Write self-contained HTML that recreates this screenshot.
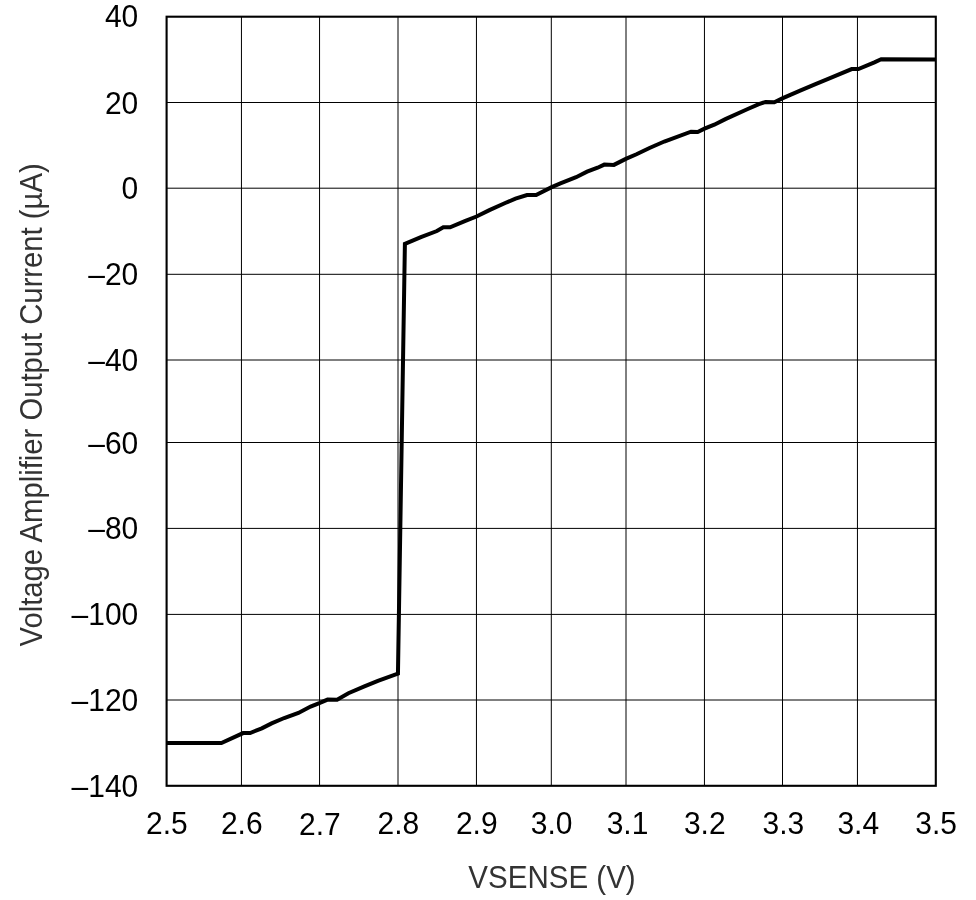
<!DOCTYPE html><html><head><meta charset="utf-8"><style>html,body{margin:0;padding:0;background:#fff;width:976px;height:900px;overflow:hidden}svg{display:block;filter:grayscale(1)}text{font-family:"Liberation Sans",sans-serif}</style></head><body>
<svg width="976" height="900" viewBox="0 0 976 900">
<rect width="976" height="900" fill="#fff"/>
<path d="M241.45 16.7V785.8M319.55 16.7V785.8M398.0 16.7V785.8M476.45 16.7V785.8M551.3 16.7V785.8M626.0 16.7V785.8M704.45 16.7V785.8M782.5 16.7V785.8M857.45 16.7V785.8M166.6 102.5H935.8M166.6 188.2H935.8M166.6 274.3H935.8M166.6 360.0H935.8M166.6 442.5H935.8M166.6 528.4H935.8M166.6 614.4H935.8M166.6 700.0H935.8" stroke="#000" stroke-width="1" fill="none"/>
<path d="M166.6 743.0 L221.4 743.0 L243.1 733.1 L250.1 733.0 L261.8 728.4 L271.6 723.4 L284.2 718.0 L298.4 713.0 L310.6 706.6 L319.3 703.2 L327.6 699.6 L337.1 699.7 L348.4 693.2 L364.4 686.4 L377.9 680.8 L397.95 673.65 L404.9 243.9 L420.9 237.1 L436.9 231.0 L443.3 227.3 L450.1 227.3 L464.8 221.1 L476.5 216.5 L489.4 210.1 L505.2 203.0 L515.5 198.7 L527.0 195.0 L536.1 195.0 L551.2 187.4 L560.4 183.4 L576.1 177.2 L587.1 171.7 L597.6 167.7 L604.3 164.6 L613.9 164.9 L625.8 158.9 L636.5 154.3 L649.5 148.0 L664.3 141.5 L691 131.7 L697.7 132.0 L704.5 128.7 L714.3 124.7 L725.4 119.1 L747.2 109.3 L758.3 104.4 L765.6 101.9 L774.3 102.2 L782.3 98.4 L800.7 90.4 L815.5 84.2 L830 78.2 L851.7 69.1 L858.4 69.1 L874.4 62.4 L881.2 59.2 L935.8 59.4" stroke="#000" stroke-width="4" fill="none" stroke-linejoin="miter" stroke-miterlimit="3"/>
<rect x="166.6" y="16.7" width="769.20" height="769.10" stroke="#000" stroke-width="2.1" fill="none"/>
<text transform="translate(166.9 833.7) scale(1 1.045)" font-size="30" text-anchor="middle" fill="#000">2.5</text>
<text transform="translate(241.75 833.7) scale(1 1.045)" font-size="30" text-anchor="middle" fill="#000">2.6</text>
<text transform="translate(319.85 834.8000000000001) scale(1 1.045)" font-size="30" text-anchor="middle" fill="#000">2.7</text>
<text transform="translate(398.3 833.7) scale(1 1.045)" font-size="30" text-anchor="middle" fill="#000">2.8</text>
<text transform="translate(476.75 833.7) scale(1 1.045)" font-size="30" text-anchor="middle" fill="#000">2.9</text>
<text transform="translate(551.5999999999999 833.7) scale(1 1.045)" font-size="30" text-anchor="middle" fill="#000">3.0</text>
<text transform="translate(627.5 833.7) scale(1 1.045)" font-size="30" text-anchor="middle" fill="#000">3.1</text>
<text transform="translate(704.75 833.7) scale(1 1.045)" font-size="30" text-anchor="middle" fill="#000">3.2</text>
<text transform="translate(783.4 833.7) scale(1 1.045)" font-size="30" text-anchor="middle" fill="#000">3.3</text>
<text transform="translate(858.25 833.7) scale(1 1.045)" font-size="30" text-anchor="middle" fill="#000">3.4</text>
<text transform="translate(936.0999999999999 833.7) scale(1 1.045)" font-size="30" text-anchor="middle" fill="#000">3.5</text>
<text transform="translate(138.3 27.2) scale(1 1.045)" font-size="30" text-anchor="end" fill="#000">40</text>
<text transform="translate(138.3 113.5) scale(1 1.045)" font-size="30" text-anchor="end" fill="#000">20</text>
<text transform="translate(138.3 199.2) scale(1 1.045)" font-size="30" text-anchor="end" fill="#000">0</text>
<text transform="translate(138.3 285.3) scale(1 1.045)" font-size="30" text-anchor="end" fill="#000">–20</text>
<text transform="translate(138.3 371.0) scale(1 1.045)" font-size="30" text-anchor="end" fill="#000">–40</text>
<text transform="translate(138.3 453.5) scale(1 1.045)" font-size="30" text-anchor="end" fill="#000">–60</text>
<text transform="translate(138.3 539.4) scale(1 1.045)" font-size="30" text-anchor="end" fill="#000">–80</text>
<text transform="translate(138.3 625.4) scale(1 1.045)" font-size="30" text-anchor="end" fill="#000">–100</text>
<text transform="translate(138.3 711.0) scale(1 1.045)" font-size="30" text-anchor="end" fill="#000">–120</text>
<text transform="translate(138.3 796.8) scale(1 1.045)" font-size="30" text-anchor="end" fill="#000">–140</text>
<text transform="translate(552 887.7) scale(0.984 1.065)" font-size="30" text-anchor="middle" fill="#333">VSENSE (V)</text>
<text transform="translate(41.8 404.9) rotate(-90) scale(0.975 1.065)" font-size="30" text-anchor="middle" fill="#333">Voltage Amplifier Output Current (µA)</text>
</svg></body></html>
